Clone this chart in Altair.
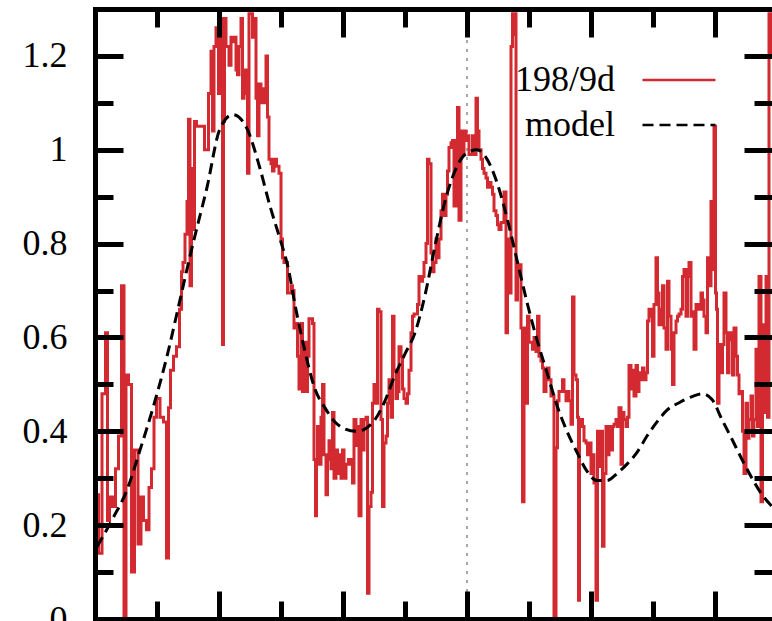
import altair as alt
import pandas as pd

# ---------------- data ----------------
series_names = ["198/9d", "model"]

red_x = [2, 5, 9, 12, 13, 16, 19, 22, 25, 28, 30, 32, 35, 38, 41, 45, 47, 50, 53, 55,
         58, 60, 63, 67, 70, 73, 74, 77, 80, 83, 86, 87, 89, 91, 93, 94, 96, 97, 99,
         100, 103, 107, 112, 115, 117, 118, 120, 122, 125, 127, 128, 129, 130, 132, 133,
         135, 137, 138, 140, 142, 143, 145, 147, 148, 150, 152, 153, 155, 157, 158, 160,
         162, 163, 165, 167, 168, 170, 172, 173, 175, 177, 178, 180, 183, 185, 187, 188,
         190, 192, 193,
         195, 197, 198, 200, 202, 203, 205, 207, 208, 210, 212, 213, 215, 217, 218, 220,
         221, 222, 223, 225, 227, 228, 230, 232, 233, 235, 237, 238, 240, 242, 243, 245,
         247, 248, 250, 252, 255, 257, 258, 260, 262, 263, 265, 267, 268, 270, 272, 273,
         275, 277, 278, 280, 282, 283, 285,
         287, 288, 290, 292, 293, 295, 297, 298, 300, 302, 303, 305, 307, 308, 310, 312,
         313, 315, 317, 318, 320, 322, 323, 325, 327, 328, 330, 332, 333, 335, 337, 338,
         340, 342, 343, 345, 347, 348, 350, 352, 353, 355, 357, 358, 360, 362, 363, 365,
         367, 368, 370, 372, 373, 375, 377, 378, 380, 382, 383, 385,
         387, 388, 390, 392, 393, 395, 397, 398, 400, 402, 403, 405, 407, 408, 410, 412,
         413, 415, 417, 418, 419, 420, 422, 423, 425, 427, 428, 430, 432, 433, 435, 437,
         438, 440, 442, 443, 445, 447, 448, 450, 452, 453, 455, 457, 458, 460, 462, 463,
         465, 467, 468, 470, 472, 473, 475, 477,
         478, 480, 482, 483, 484, 485, 487, 488, 490, 492, 493, 495, 497, 498, 500, 502,
         503, 505, 507, 508, 510, 512, 513, 515, 517, 518, 520, 522, 523, 525, 527, 528,
         530, 532, 533, 535, 537, 538, 540, 542, 543, 545, 547, 548, 550, 552, 553, 555,
         557, 558, 560, 562, 563, 565, 567, 568, 570, 572, 573, 575,
         577, 578, 580, 582, 583, 585, 587, 588, 590, 592, 593, 595, 597, 598, 600, 602,
         603, 605, 607, 608, 610, 612, 613, 615, 617, 618, 620, 621, 622, 623, 625, 627,
         628, 630, 632, 633, 635, 637, 638, 640, 642, 643, 645, 647, 648, 650, 652, 653,
         655, 657, 658, 660, 662, 663, 665, 667, 668, 670, 672, 673, 675, 677]

red_y = [0.265, 0.14, 0.48, 0.61, 0.21, 0.26, 0.24, 0.32, 0.39, 0.71, 0.0, 0.52, 0.50, 0.10,
         0.36, 0.16, 0.26, 0.21, 0.19, 0.28, 0.32, 0.43, 0.47, 0.43, 0.42, 0.13, 0.45, 0.53,
         0.56, 0.58, 0.66, 0.74, 0.76, 0.82, 0.89, 1.065, 0.71, 0.96, 0.83,
         1.06, 1.05, 1.05, 1.0, 1.12, 1.21, 1.04, 1.22, 1.26, 1.12, 1.28, 0.585, 1.06, 1.28,
         1.22, 1.22, 1.18, 1.24, 1.23, 1.24, 1.17, 1.16, 1.22, 1.28, 1.11, 1.17, 1.12, 0.95,
         1.29, 1.29, 1.24, 1.28, 1.11, 1.03, 1.14, 1.10, 1.13, 1.10, 1.20, 1.07, 0.98, 0.97,
         0.955, 0.98, 0.965, 0.95, 0.81, 0.77, 0.76, 0.76, 0.695,
         0.695, 0.71, 0.70, 0.62, 0.63, 0.56, 0.49, 0.63, 0.485, 0.59, 0.485, 0.56, 0.64,
         0.64, 0.63, 0.34, 0.22, 0.34, 0.41, 0.33, 0.43, 0.50, 0.35, 0.265, 0.34, 0.38, 0.32,
         0.44, 0.30, 0.36, 0.31, 0.35, 0.30, 0.36, 0.30, 0.33, 0.34, 0.33, 0.29, 0.425, 0.37,
         0.41, 0.22, 0.425, 0.36, 0.425, 0.43, 0.055, 0.24, 0.27, 0.46, 0.50, 0.46, 0.66, 0.655,
         0.425, 0.24, 0.375, 0.39, 0.46, 0.51, 0.43, 0.645, 0.53, 0.47, 0.485, 0.58, 0.56,
         0.49, 0.47, 0.46, 0.48, 0.53, 0.61, 0.645, 0.65, 0.65, 0.67, 0.73, 0.72, 0.73, 0.76,
         0.80, 0.98, 0.97, 0.78, 0.74, 0.76, 0.81, 0.77, 0.81, 0.87, 0.905, 0.86, 0.905,
         0.955, 1.005, 1.015, 1.02, 0.88, 1.02, 1.09, 0.85, 1.04, 0.99, 1.04, 1.02, 1.03,
         0.99, 0.99, 1.03, 0.99, 1.11, 1.04, 1.0,
         0.98, 0.96, 0.95, 0.94, 0.92, 0.93, 0.92, 0.905, 0.87, 0.86, 0.84, 0.83, 0.845,
         0.845, 0.91, 0.61, 0.81, 0.695, 1.22, 1.29, 1.245, 1.29, 0.68, 0.745, 0.755, 0.62,
         0.25, 0.62, 0.46, 0.645, 0.59, 0.59, 0.575, 0.60, 0.57, 0.645, 0.56, 0.55, 0.535,
         0.485, 0.525, 0.535, 0.51, 0.475, 0.475, 0.0, 0.365, 0.465, 0.485, 0.485, 0.51,
         0.485, 0.465, 0.485, 0.465, 0.415,
         0.686, 0.52, 0.51, 0.43, 0.04, 0.425, 0.425, 0.41, 0.38, 0.375, 0.35, 0.375, 0.31,
         0.35, 0.29, 0.04, 0.40, 0.325, 0.40, 0.155, 0.31, 0.41, 0.35, 0.41, 0.36, 0.41,
         0.415, 0.425, 0.41, 0.45, 0.33, 0.44, 0.425, 0.41, 0.43, 0.54, 0.49, 0.53, 0.475,
         0.54, 0.485, 0.525, 0.51, 0.535, 0.51, 0.525, 0.635, 0.66, 0.645, 0.56, 0.67, 0.77,
         0.695, 0.627, 0.66, 0.71, 0.62, 0.575, 0.72, 0.645,
         0.575, 0.50, 0.61, 0.635, 0.645, 0.65, 0.66, 0.73, 0.745, 0.645, 0.73, 0.76, 0.645,
         0.655, 0.575, 0.67, 0.67, 0.66, 0.695, 0.68, 0.645, 0.61, 0.77, 0.71, 0.89, 0.745,
         1.05, 0.695, 0.66, 0.46, 0.585, 0.525, 0.585, 0.695, 0.61, 0.525, 0.61, 0.595, 0.52,
         0.62, 0.56, 0.52, 0.48, 0.485, 0.40, 0.31, 0.46, 0.385, 0.425, 0.475, 0.39, 0.425,
         0.575, 0.41, 0.73, 0.25, 0.627, 0.44, 0.73, 0.43, 1.29, 1.2]

model_x = [2, 5, 18, 32, 45, 58, 72, 85, 98, 112, 125, 138, 152, 165, 175, 185, 193, 200,
           210, 220, 230, 240, 250, 262, 270, 280, 290, 300, 310, 320, 330, 340, 350, 360,
           370, 382, 392, 402, 412, 422, 432, 442, 452, 462, 472, 482, 492, 502, 512, 522,
           532, 542, 552, 562, 572, 585, 597, 607, 617, 627, 637, 647, 657, 667, 677]
model_y = [0.154, 0.165, 0.215, 0.275, 0.36, 0.45, 0.56, 0.68, 0.80, 0.92, 1.045, 1.075,
           1.045, 0.96, 0.88, 0.81, 0.75, 0.67, 0.57, 0.49, 0.45, 0.42, 0.405, 0.40, 0.405,
           0.425, 0.465, 0.52, 0.565, 0.61, 0.69, 0.795, 0.89, 0.955, 0.99, 1.0, 0.98, 0.93,
           0.855, 0.765, 0.675, 0.595, 0.525, 0.455, 0.40, 0.355, 0.315, 0.295, 0.295, 0.31,
           0.33, 0.355, 0.39, 0.42, 0.445, 0.462, 0.474, 0.48, 0.468, 0.425, 0.383, 0.34,
           0.30, 0.265, 0.24]

vline_x = [372]

x_domain = [0, 677]
y_domain = [0, 1.3]
x_major = [124, 248, 372, 496, 620]
x_minor = [62, 186, 310, 434, 558]
y_major = [0, 0.2, 0.4, 0.6, 0.8, 1.0, 1.2]
y_minor = [0.1, 0.3, 0.5, 0.7, 0.9, 1.1]

# ---------------- layout / style ----------------
W, H = 677, 610
FONT = "Liberation Serif"
RED = "#d22a30"

red_df = pd.DataFrame({"x": red_x, "y": red_y, "series": series_names[0]})
model_df = pd.DataFrame({"x": model_x, "y": model_y, "series": series_names[1]})
vline_df = pd.DataFrame({"x": vline_x, "y0": [y_domain[0]], "y1": [y_domain[1]]})

xscale = alt.Scale(domain=x_domain, nice=False, zero=False)
yscale = alt.Scale(domain=y_domain, nice=False, zero=False)

x_tick_size = {"condition": {"test": "datum.value % 124 == 0", "value": 28}, "value": 18}
y_tick_size = {"condition": {"test": "round(datum.value * 10) % 2 == 0", "value": 28}, "value": 18}

tick_common = dict(grid=False, labels=False, title=None, zindex=2,
                   tickColor="black", tickWidth=5)
border = dict(domain=True, domainColor="black", domainWidth=5, domainCap="square")

ax_bottom = alt.Axis(orient="top", offset=-H, values=x_major + x_minor,
                     tickSize=x_tick_size, **border, **tick_common)
ax_top = alt.Axis(orient="bottom", offset=-H, values=x_major + x_minor,
                  tickSize=x_tick_size, **border, **tick_common)
ax_left_labels = alt.Axis(orient="left", values=y_major, format="~g", ticks=False,
                          tickSize=0, labelFont=FONT, labelFontSize=36,
                          labelColor="black", labelPadding=28, labelFlush=False,
                          labelOverlap=False, grid=False, title=None, zindex=2,
                          **border)
ax_left_ticks = alt.Axis(orient="right", offset=-W, values=y_major + y_minor,
                         tickSize=y_tick_size, domain=False, **tick_common)
ax_right_ticks = alt.Axis(orient="left", offset=-W, values=y_major + y_minor,
                          tickSize=y_tick_size, domain=False, **tick_common)

# legend: label on the left, line sample on the right (gnuplot style)
legend = alt.Legend(title=None, orient="none", legendX=566, legendY=53,
                    symbolType="M-4,0H4", symbolSize=333, symbolStrokeWidth=2.5,
                    symbolOffset=0, labelAlign="right",
                    labelOffset=alt.ExprRef(expr="-82"),
                    labelFont=FONT, labelFontSize=36, labelColor="black",
                    rowPadding=9, padding=0)

color = alt.Color("series:N", scale=alt.Scale(domain=series_names, range=[RED, "black"]),
                  legend=legend)
dash = alt.StrokeDash("series:N",
                      scale=alt.Scale(domain=series_names, range=[[1, 0], [11, 6]]),
                      legend=legend)

vline = alt.Chart(vline_df).mark_rule(color="#8a8a8a", strokeWidth=1.5,
                                      strokeDash=[3, 6]).encode(
    x=alt.X("x:Q", scale=xscale, axis=None),
    y=alt.Y("y0:Q", scale=yscale, axis=ax_right_ticks),
    y2="y1:Q",
)

red = alt.Chart(red_df).mark_line(interpolate="step", strokeWidth=3, clip=True).encode(
    x=alt.X("x:Q", scale=xscale, axis=ax_bottom),
    y=alt.Y("y:Q", scale=yscale, axis=ax_left_labels),
    color=color,
    strokeDash=dash,
)

model = alt.Chart(model_df).mark_line(interpolate="monotone", strokeWidth=3,
                                      clip=True).encode(
    x=alt.X("x:Q", scale=xscale, axis=ax_top),
    y=alt.Y("y:Q", scale=yscale, axis=ax_left_ticks),
    color=color,
    strokeDash=dash,
)

chart = alt.layer(vline, red, model).resolve_axis(
    x="independent", y="independent"
).properties(
    width=W, height=H,
    padding={"left": 95, "top": 9, "right": 0, "bottom": 2},
    autosize=alt.AutoSizeParams(type="none"),
    background="white",
).configure_view(strokeWidth=0)

chart.save("out.html", embed_options={"renderer": "svg", "actions": False})
